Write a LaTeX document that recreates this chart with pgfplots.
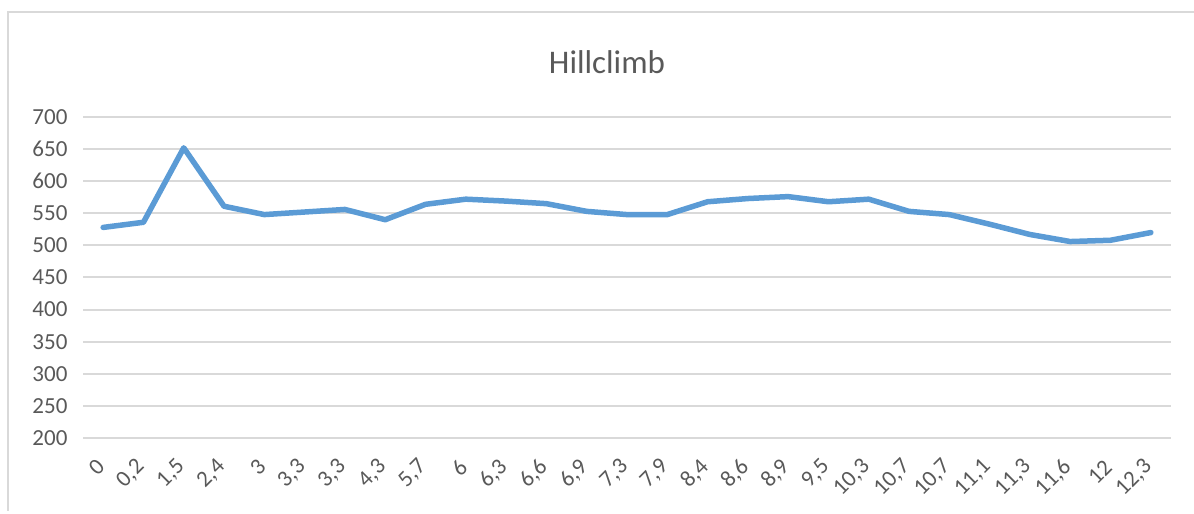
\documentclass[border=0pt]{standalone}
\usepackage{pgfplots}
\pgfplotsset{compat=1.18}
\usepackage{fontspec}
\setmainfont{Carlito}
\definecolor{linecol}{RGB}{91,155,213}
\definecolor{txtcol}{RGB}{89,89,89}
\definecolor{gridcol}{RGB}{217,217,217}
\begin{document}
\begin{tikzpicture}[x=1pt,y=1pt]
\path[use as bounding box] (0,0) rectangle (1194,514);
\draw[gridcol, line width=1.5pt] (8,3) -- (8,502) -- (1194,502);
\node[txtcol, font=\fontsize{33}{38}\selectfont] at (607,452) {Hillclimb};
\begin{axis}[
  at={(83pt,76pt)}, anchor=south west,
  scale only axis, width=1088pt, height=321pt,
  xmin=-0.5, xmax=26.5, ymin=200, ymax=700,
  ytick={200,250,...,700},
  xtick={0,...,26},
  xticklabels={{0},{0,2},{1,5},{2,4},{3},{3,3},{3,3},{4,3},{5,7},{6},{6,3},{6,6},{6,9},{7,3},{7,9},{8,4},{8,6},{8,9},{9,5},{10,3},{10,7},{10,7},{11,1},{11,3},{11,6},{12},{12,3}},
  axis line style={draw=none},
  major tick style={draw=none},
  ymajorgrids,
  major grid style={gridcol, line width=2pt},
  /pgf/number format/assume math mode=true,
  tick label style={txtcol, font=\fontsize{23}{27}\selectfont},
  yticklabel style={anchor=east, xshift=-12pt},
  xticklabel shift=23pt,
  xticklabel style={rotate=45, anchor=east},
]
\addplot[linecol, line width=5.5pt, line join=round, line cap=round] coordinates {
(0,528) (1,536) (2,652) (3,561) (4,548) (5,552) (6,556) (7,540) (8,564)
(9,572) (10,569) (11,565) (12,553) (13,548) (14,548) (15,568) (16,573)
(17,576) (18,568) (19,572) (20,553) (21,548) (22,533) (23,517) (24,506)
(25,508) (26,520)
};
\end{axis}
\end{tikzpicture}
\end{document}
